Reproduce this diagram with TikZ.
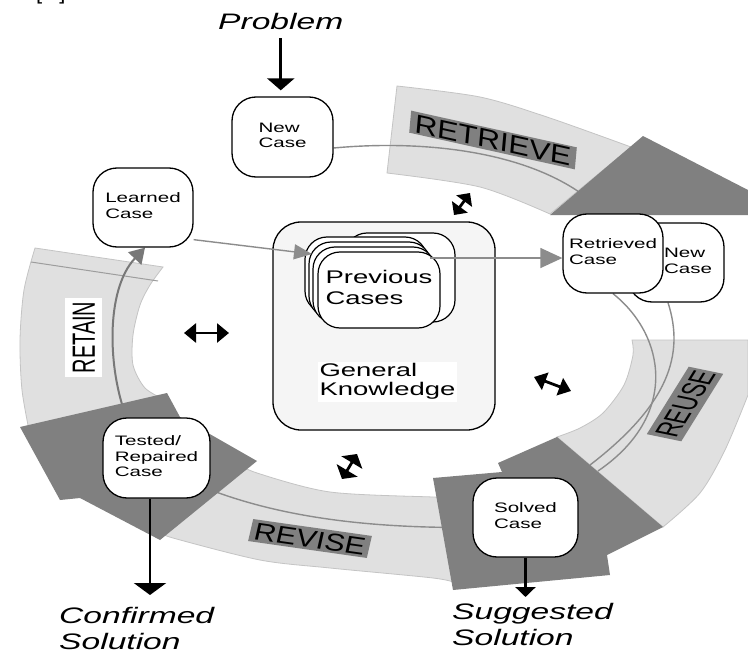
\documentclass[tikz,border=0pt]{standalone}
\usepackage{fontspec}
\setmainfont{Liberation Sans}
\usepackage{graphicx}
\usetikzlibrary{arrows.meta}
\pgfdeclarelayer{bands}
\pgfdeclarelayer{conns}
\pgfdeclarelayer{heads}
\pgfsetlayers{bands,conns,heads,main}
\definecolor{bandgray}{HTML}{E0E0E0}
\definecolor{bandedge}{HTML}{C4C4C4}
\definecolor{headgray}{HTML}{808080}
\definecolor{conngray}{HTML}{8C8C8C}
\definecolor{conndark}{HTML}{787878}
\definecolor{gkfill}{HTML}{F5F5F5}
\newcommand{\sx}[1]{\scalebox{1.5}[1]{#1}}
\newcommand{\mylines}[1]{\begin{tabular}{@{}l@{}}#1\end{tabular}}
\newcommand{\mylinestop}[1]{\begin{tabular}[t]{@{}l@{}}#1\end{tabular}}
\newcommand{\boxfont}{\fontsize{13.7}{15.5}\selectfont}
\newcommand{\pcfont}{\fontsize{18.3}{21}\selectfont}
\newcommand{\gkfont}{\fontsize{18.3}{17.5}\selectfont}
\newcommand{\italfont}{\itshape\fontsize{22.4}{26}\selectfont}
\begin{document}
\begin{tikzpicture}[x=1pt,y=-1pt,
  box/.style={draw=black,line width=1.3pt,fill=white,rounded corners=24pt,inner sep=0pt,font=\boxfont},
  card/.style={draw=black,line width=1.2pt,fill=white,rounded corners=22pt,inner sep=0pt},
  band/.style={fill=bandgray,draw=bandedge,line width=0.8pt},
  headshape/.style={fill=headgray},
  conn/.style={draw=conngray,line width=1.4pt},
  ital/.style={font=\italfont,inner sep=0pt},
  blk/.style={draw=black,line width=2.6pt},
  dbl/.style={draw=black,line width=2.8pt},
  lab/.style={fill=headgray,text=black}]
\useasboundingbox (0,0) rectangle (748,653);

% central knowledge box and case stack
\node[box,fill=gkfill,minimum width=222pt,minimum height=208pt,rounded corners=28pt] (gk) at (384,326) {};
\node[card,minimum width=110pt,minimum height=89pt] (cE) at (400,277.5) {};
\node[card,minimum width=122pt,minimum height=76pt] (cA) at (366,275) {};
\node[card,minimum width=122pt,minimum height=76pt] (cB) at (370,280) {};
\node[card,minimum width=122pt,minimum height=76pt] (cC) at (374,285) {};
\node[card,minimum width=122pt,minimum height=76pt,font=\pcfont] (cD) at (379,290) {\sx{\mylines{Previous\\Cases}}};
\node[fill=white,inner sep=1.5pt,font=\gkfont] (gkt) at (387.5,382) {\sx{\mylines{General\\Knowledge}}};

% case boxes
\node[box,minimum width=101pt,minimum height=80pt] (nc) at (282.5,137) {\raisebox{5pt}{\sx{\mylines{New\\Case}}}\hspace{17pt}};
\node[box,minimum width=100pt,minimum height=79pt] (lc) at (143,207.5) {\raisebox{3pt}{\sx{\mylines{Learned\\Case}}}};
\node[box,minimum width=96pt,minimum height=79pt] (nc2) at (676,262.5) {\hspace{24pt}\sx{\mylines{New\\Case}}};
\node[box,minimum width=100pt,minimum height=79pt] (rc) at (613,253.5) {\sx{\mylines{Retrieved\\Case}}};
\node[box,minimum width=105pt,minimum height=79pt] (sc) at (525.5,517.5) {\sx{\mylines{Solved\\Case}}};
\node[box,minimum width=107pt,minimum height=80pt] (tc) at (156.5,458) {\sx{\mylines{Tested/\\Repaired\\Case}}};

% italic texts
\node[ital,anchor=base west] (prob) at (218,30) {\sx{Problem}};
\node[ital,anchor=base west] (conf) at (59,623) {\sx{\mylinestop{Confirmed\\Solution}}};
\node[ital,anchor=base west] (sugg) at (452,619) {\sx{\mylinestop{Suggested\\Solution}}};
\node[font=\fontsize{22}{22}\selectfont,anchor=base west,inner sep=0pt] (brk) at (36,-1) {[\hspace{17pt}]};

% coordinates
\coordinate (pcin) at (312,254);
\coordinate (pcout) at (430,258);
\coordinate (rtend) at (582,194);
\coordinate (r1end) at (598,471);
\coordinate (r2end) at (590,465);
\coordinate (cfend) at (150,595);
\coordinate (sgend) at (525.5,597);

% bands
\begin{pgfonlayer}{bands}
\fill[white] (0,0) rectangle (748,653);
\path[band] (397,86) -- plot[smooth] coordinates {(397,86) (480,97) (547,117) (631,147)} -- (550,214)
  -- plot[smooth] coordinates {(550,214) (480,187) (387,173)} -- cycle;
\path[band] (632,340) -- (748,340) -- (748,395) -- plot[smooth] coordinates {(748,395) (725,450) (700,493) (663,527)}
  -- (557,437) -- plot[smooth] coordinates {(557,437) (580,428) (603,413) (624,385) (633,355) (632,340)} -- cycle;
\path[band] (235,462) -- plot[smooth] coordinates {(235,462) (257,473) (330,492) (433,497) (448,497)} -- (456,583)
  -- plot[smooth] coordinates {(456,583) (433,578) (330,568) (260,560) (173,538) (163,533)} -- cycle;
\path[band] (35,248) -- (163,267) -- plot[smooth] coordinates {(163,267) (150,285) (140,305) (133,335) (133,365) (145,388) (165,400)}
  -- (30,435) -- plot[smooth] coordinates {(30,435) (22,390) (20,340) (24,290) (35,248)} -- cycle;
\draw[draw=bandedge!80!black,line width=1pt] (31,262) -- (158,281);
\end{pgfonlayer}

% connectors along the cycle
\begin{pgfonlayer}{conns}
\draw[conn] ([yshift=-11pt]nc.east) .. controls (420,140) and (520,150) .. (rtend);
\draw[conn] (rc.south) .. controls (665,335) and (680,415) .. (r1end);
\draw[conn] ([xshift=-8pt]nc2.south) .. controls (685,355) and (668,405) .. (r2end);
\draw[conn] ([yshift=-10pt]sc.west) .. controls (380,528) and (290,520) .. ([yshift=-32pt]tc.east);
\draw[draw=conndark,line width=2pt,-{Triangle[width=18pt,length=15pt]}] ([xshift=-30pt]tc.north) .. controls (108,370) and (105,290) .. ([xshift=2pt]lc.south);
\end{pgfonlayer}

% dark arrow heads of the cycle
\begin{pgfonlayer}{heads}
\fill[headshape] (550,215) -- (643,136) -- (748,190) -- (748,215) -- cycle;
\fill[headshape] (433,478) -- (502,472) -- (498,463) -- (557,437) -- (663,527) -- (607,555) -- (610,575) -- (453,590) -- cycle;
\fill[headshape] (20,427) -- (167,393) -- (180,417) -- (257,461) -- (160,540) -- (80,498) -- (60,500) -- cycle;
\end{pgfonlayer}

% arrows around the case stack
\draw[conn,-{Triangle[width=15pt,length=18pt]}] ([yshift=8pt]lc.south east) -- (pcin);
\draw[conn,-{Triangle[width=20pt,length=22pt]}] (pcout) -- (pcout -| rc.west);

% black arrows
\draw[blk,-{Triangle[width=27pt,length=12pt]},shorten <=8pt,shorten >=6pt] (prob.south) -- (prob.south |- nc.north);
\draw[blk,-{Triangle[width=32pt,length=12pt]}] ([xshift=-6.5pt]tc.south) -- (cfend);
\draw[blk,-{Triangle[width=20pt,length=10pt]}] (sc.south) -- (sgend);

% double arrows
\coordinate (d1a) at (470,193); \coordinate (d1b) at (454,215);
\coordinate (d2a) at (184,333); \coordinate (d2b) at (229,333);
\coordinate (d3a) at (534,377); \coordinate (d3b) at (571,391);
\coordinate (d4a) at (357,454); \coordinate (d4b) at (342,479);
\draw[dbl,{Triangle[width=19pt,length=10pt]}-{Triangle[width=19pt,length=10pt]}] (d1a) -- (d1b);
\draw[dbl,{Triangle[width=19pt,length=12pt]}-{Triangle[width=19pt,length=12pt]}] (d2a) -- (d2b);
\draw[dbl,{Triangle[width=18pt,length=12pt]}-{Triangle[width=18pt,length=12pt]}] (d3a) -- (d3b);
\draw[dbl,{Triangle[width=24pt,length=10pt]}-{Triangle[width=24pt,length=10pt]}] (d4a) -- (d4b);

% step labels
\node[lab,font=\fontsize{26}{26}\selectfont,text height=18.6pt,text depth=0pt,inner xsep=4pt,inner ysep=1.7pt,cm={1.2,-0.266,0.09,1,(0,0)}] (lretrieve) at (493,140) {RETRIEVE};
\node[lab,font=\fontsize{24}{24}\selectfont,text height=17.2pt,text depth=0pt,inner xsep=3.2pt,inner ysep=2.4pt,cm={1.257,-0.179,0.23,1,(0,0)}] (lrevise) at (310,538.5) {REVISE};
\node[lab,font=\fontsize{21}{21}\selectfont,text height=15pt,text depth=0pt,inner xsep=1.3pt,inner ysep=4pt,cm={0.56,0.9,-1.5,0.31,(0,0)}] (lreuse) at (685,404) {REUSE};
\node[fill=white,font=\fontsize{21}{21}\selectfont,text height=15pt,text depth=0pt,inner xsep=4.1pt,inner ysep=4.6pt,cm={0,0.95,-1.53,0,(0,0)}] (lretain) at (83.5,337.5) {RETAIN};
\end{tikzpicture}
\end{document}
